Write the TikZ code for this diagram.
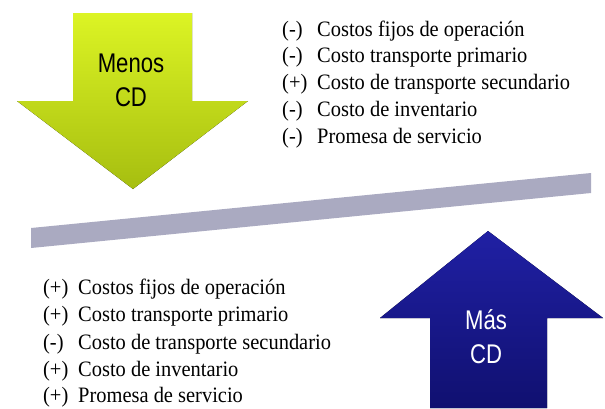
\documentclass[tikz,border=0pt]{standalone}
\usepackage{fontspec}
\setmainfont{Liberation Serif}
\setsansfont{Liberation Sans}
\usetikzlibrary{positioning}
\definecolor{menostop}{RGB}{220,244,36}
\definecolor{menosbot}{RGB}{166,190,16}
\definecolor{mastop}{RGB}{32,32,164}
\definecolor{masbot}{RGB}{16,16,112}
\definecolor{barcolor}{RGB}{170,170,193}

\begin{document}
\begin{tikzpicture}[
    x=1pt, y=-1pt,
    item/.style={anchor=base west, inner sep=0pt, font=\fontsize{22}{26}\selectfont, xscale=0.93},
    arrowtext/.style={align=center, inner sep=0pt, font=\sffamily\fontsize{27}{34}\selectfont, xscale=0.82}
]
    \useasboundingbox (0,0) rectangle (605,408);

    % Arrows and balance bar
    \fill[top color=menostop, bottom color=menosbot]
        (73,13) -- (192,13) -- (192,101) -- (248,101) -- (133,189)
        -- (17,101) -- (73,101) -- cycle;
    \fill[top color=mastop, bottom color=masbot]
        (430,408) -- (430,318) -- (380,318) -- (488,231) -- (603,318)
        -- (547,318) -- (547,408) -- cycle;
    \fill[barcolor] (31,228) -- (591,173) -- (591,193) -- (31,248) -- cycle;

    \node[arrowtext] (menos) at (131,80) {Menos\\CD};
    \node[arrowtext, text=white] (mas) at (486,337) {Más\\CD};

    % Less DC
    \node[item] (ms1) at (282,36) {(-)};
    \node[item] (mt1) at (317,36) {Costos fijos de operación};
    \node[item] (ms2) at (282,62) {(-)};
    \node[item] (mt2) at (317,62) {Costo transporte primario};
    \node[item] (ms3) at (282,89) {(+)};
    \node[item] (mt3) at (317,89) {Costo de transporte secundario};
    \node[item] (ms4) at (282,116) {(-)};
    \node[item] (mt4) at (317,116) {Costo de inventario};
    \node[item] (ms5) at (282,143) {(-)};
    \node[item] (mt5) at (317,143) {Promesa de servicio};

    % More DC
    \node[item] (ps1) at (43,294) {(+)};
    \node[item] (pt1) at (78,294) {Costos fijos de operación};
    \node[item] (ps2) at (43,321) {(+)};
    \node[item] (pt2) at (78,321) {Costo transporte primario};
    \node[item] (ps3) at (43,349) {(-)};
    \node[item] (pt3) at (78,349) {Costo de transporte secundario};
    \node[item] (ps4) at (43,376) {(+)};
    \node[item] (pt4) at (78,376) {Costo de inventario};
    \node[item] (ps5) at (43,402) {(+)};
    \node[item] (pt5) at (78,402) {Promesa de servicio};
\end{tikzpicture}
\end{document}
